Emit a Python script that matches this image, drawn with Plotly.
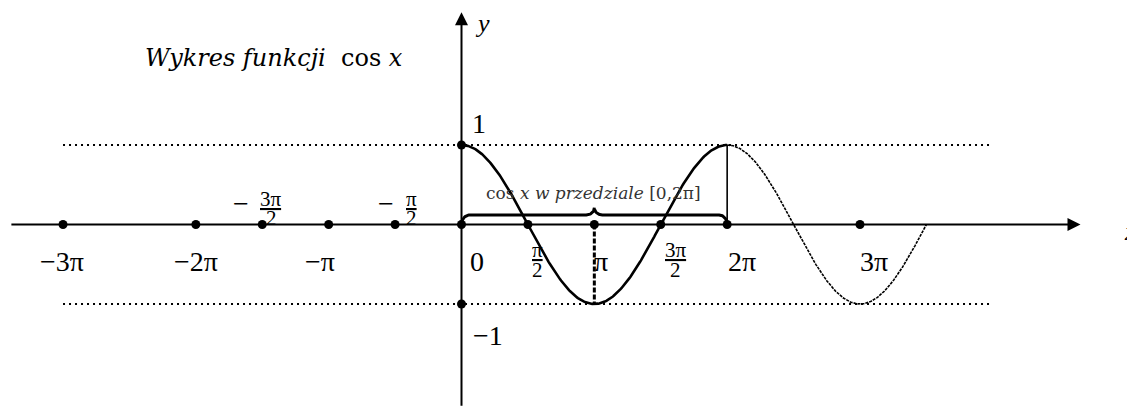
import numpy as np
import plotly.graph_objects as go

PI = np.pi

# ---- data (multiples of pi on the x axis) ----
axis_points = [-3, -2, -1.5, -1, -0.5, 0, 0.5, 1, 1.5, 2, 3]
y_axis_points = [1, -1]
main_labels = ["−3π", "−2π", "−π", "0", "π", "2π", "3π"]
main_label_pos = [-3, -2, -1, 0, 1, 2, 3]
frac_num = ["3π", "π", "π", "3π"]
frac_den = ["2", "2", "2", "2"]
frac_sign = ["−", "−", "", ""]
frac_pos = [-1.5, -0.5, 0.5, 1.5]
y_labels = ["1", "−1"]
y_label_pos = [1, -1]
curve_main = [0, 2]      # solid part of cos x (in pi)
curve_cont = [2, 3.5]    # thin continuation (in pi)
dotted_span = [-3, 4]    # horizontal guide lines y=+-1
brace_span = [0, 2]
title_text = "<i>Wykres funkcji</i>  cos <i>x</i>"
brace_text = "cos <i>x</i> <i>w przedziale</i> [0,2π]"

# ---- styling / placement ----
W, H = 1127, 398          # page body has an 8px margin
XR = [-3.4142 * PI, 5.0704 * PI]
YR = [-2.283, 2.7233]
FONT = "Liberation Serif"
FONT2 = "DejaVu Serif"
MAIN_SIZE = 28
FRAC_SIZE = 21

fig = go.Figure()

# dotted guide lines
xs = np.array(dotted_span) * PI
for yv in y_axis_points:
    fig.add_trace(go.Scatter(x=xs, y=[yv, yv], mode="lines",
                             line=dict(color="black", width=2, dash="2px,4px"),
                             hoverinfo="skip", showlegend=False))

# axes with arrows
fig.add_annotation(x=4.66 * PI, y=0, ax=-3.40 * PI, ay=0, xref="x", yref="y",
                   axref="x", ayref="y", showarrow=True, arrowhead=2,
                   arrowsize=1.3, arrowwidth=2, arrowcolor="black", text="")
fig.add_annotation(x=0, y=2.67, ax=0, ay=-2.3, xref="x", yref="y",
                   axref="x", ayref="y", showarrow=True, arrowhead=2,
                   arrowsize=1.3, arrowwidth=2, arrowcolor="black", text="")

# cos curve
t1 = np.linspace(curve_main[0] * PI, curve_main[1] * PI, 300)
fig.add_trace(go.Scatter(x=t1, y=np.cos(t1), mode="lines",
                         line=dict(color="black", width=2.6),
                         hoverinfo="skip", showlegend=False))
t2 = np.linspace(curve_cont[0] * PI, curve_cont[1] * PI, 300)
fig.add_trace(go.Scatter(x=t2, y=np.cos(t2), mode="lines",
                         line=dict(color="black", width=1.6, dash="3px,1px"),
                         hoverinfo="skip", showlegend=False))

# vertical helper lines
fig.add_trace(go.Scatter(x=[PI, PI], y=[0, np.cos(PI)], mode="lines",
                         line=dict(color="black", width=3, dash="5px,2px"),
                         hoverinfo="skip", showlegend=False))
fig.add_trace(go.Scatter(x=[2 * PI, 2 * PI], y=[0, np.cos(2 * PI)], mode="lines",
                         line=dict(color="black", width=1.6),
                         hoverinfo="skip", showlegend=False))

# brace over [0, 2pi]
a, b = brace_span[0] * PI, brace_span[1] * PI
m = (a + b) / 2
h, tip = 0.12, 0.21
rx = 0.19
q = np.linspace(0, PI / 2, 20)
bx = np.concatenate([a + rx * (1 - np.cos(q)), m - rx + rx * np.sin(q),
                     (m + rx - rx * np.sin(q))[::-1], (b - rx * (1 - np.cos(q)))[::-1]])
by = np.concatenate([h * np.sin(q), h + (tip - h) * (1 - np.cos(q)),
                     (h + (tip - h) * (1 - np.cos(q)))[::-1], (h * np.sin(q))[::-1]])
fig.add_trace(go.Scatter(x=bx, y=by, mode="lines",
                         line=dict(color="black", width=3),
                         hoverinfo="skip", showlegend=False))

# markers
fig.add_trace(go.Scatter(x=np.array(axis_points) * PI, y=[0] * len(axis_points),
                         mode="markers", marker=dict(color="black", size=9),
                         hoverinfo="skip", showlegend=False))
fig.add_trace(go.Scatter(x=[0] * len(y_axis_points), y=y_axis_points,
                         mode="markers", marker=dict(color="black", size=9),
                         hoverinfo="skip", showlegend=False))


def txt(x, y, s, size=MAIN_SIZE, xanchor="center", xs=0, ys=0, color="black",
        family=FONT):
    fig.add_annotation(x=x, y=y, xref="x", yref="y", text=s, showarrow=False,
                       xanchor=xanchor, yanchor="middle", xshift=xs, yshift=ys,
                       borderpad=0,
                       font=dict(family=family, size=size, color=color))


# main tick labels
main_shift = {-3: (-1, "center"), -2: (0, "center"), -1: (-9, "center"),
              0: (7, "left"), 1: (-1, "left"), 2: (0, "left"), 3: (-1, "left")}
for lab, p in zip(main_labels, main_label_pos):
    sh, anc = main_shift[p]
    txt(p * PI, 0, lab, xanchor=anc, xs=sh, ys=-37)

# fractions: (x shift of fraction centre, numerator y, denominator y, sign right edge)
frac_style = {-1.5: (9, 26, 7, -12), -0.5: (16, 26, 7, 0),
              0.5: (10, -25, -45, 0), 1.5: (15, -25, -45, 0)}
for num, den, sg, p in zip(frac_num, frac_den, frac_sign, frac_pos):
    dx, ynum, yden, sx = frac_style[p]
    txt(p * PI, 0, "<u>" + num + "</u>", size=FRAC_SIZE, xs=dx, ys=ynum)
    txt(p * PI, 0, den, size=FRAC_SIZE, xs=dx, ys=yden)
    if sg:
        txt(p * PI, 0, sg, size=MAIN_SIZE, xanchor="right", xs=sx, ys=21)

# y labels
txt(0, 1, y_labels[0], xanchor="left", xs=9, ys=22)
txt(0, -1, y_labels[1], xanchor="left", xs=10, ys=-31)

# axis names
txt(0, 2.53, "<i>y</i>", size=26, xanchor="left", xs=12)
txt(4.98 * PI, -0.094, "<i>x</i>", size=26, xanchor="left")

# title and brace caption
txt(-1.415 * PI, 2.094, title_text, size=24, family=FONT2)
txt(0.994 * PI, 0.396, brace_text, size=17, color="#333333", family=FONT2)

fig.update_layout(
    width=W, height=H, margin=dict(l=0, r=0, t=0, b=0),
    paper_bgcolor="white", plot_bgcolor="white", showlegend=False,
    xaxis=dict(range=XR, visible=False, fixedrange=True),
    yaxis=dict(range=YR, visible=False, fixedrange=True),
)

fig.write_html("out.html")
